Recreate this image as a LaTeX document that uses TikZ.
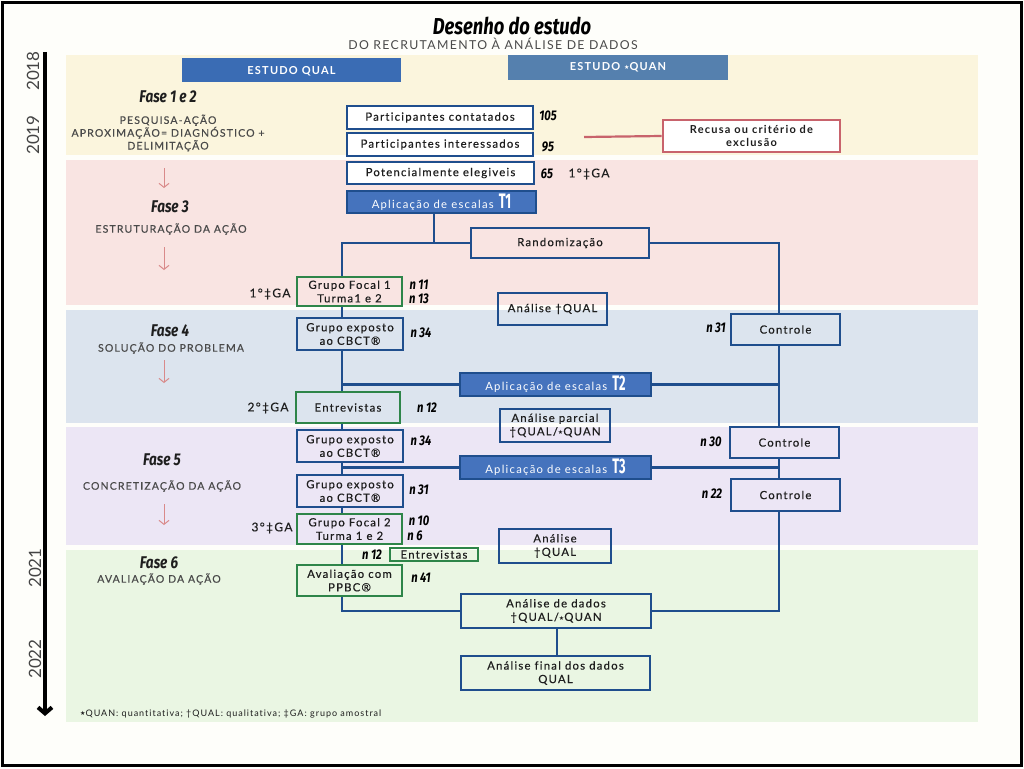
\documentclass[tikz,border=0pt]{standalone}
\usepackage{fontspec}
\usetikzlibrary{arrows.meta,calc}
\setmainfont{Lato}
\newfontfamily\bxf{Lato}[LetterSpace=11,FakeBold=0.4,Ligatures=NoCommon]
\newfontfamily\bxt{Lato}[LetterSpace=11,Ligatures=NoCommon]
\newfontfamily\mk{Fira Sans}[FakeStretch=0.8]
\newfontfamily\cond{Fira Sans}[FakeStretch=0.6]
\newfontfamily\djv{DejaVu Sans}
\newcommand\qst{\raisebox{0.8pt}{\djv\fontsize{6}{6}\selectfont ★}}
\definecolor{bgc}{HTML}{FEFEFA}
\definecolor{byel}{HTML}{FBF5DD}
\definecolor{bpink}{HTML}{F9E4E2}
\definecolor{bblue}{HTML}{DCE4EE}
\definecolor{blav}{HTML}{ECE6F5}
\definecolor{bgrn}{HTML}{EAF6E3}
\definecolor{dblue}{HTML}{1F4E8D}
\definecolor{dgreen}{HTML}{2E8549}
\definecolor{rred}{HTML}{C8636C}
\definecolor{mblue}{HTML}{4573BD}
\definecolor{hqual}{HTML}{3A6CB4}
\definecolor{hquan}{HTML}{5580AE}
\definecolor{txt}{HTML}{1E1E1E}
\definecolor{gtxt}{HTML}{4A4A4A}
\definecolor{ytxt}{HTML}{444444}
\definecolor{apink}{HTML}{D98A8A}
\newcommand\bxn[7]{\node[#2, minimum width={#5-#3}, minimum height={#6-#4}] (#1) at ({(#3+#5)/2},{(#4+#6)/2}) {#7};}
\newcommand\tl[1]{\hspace{5pt}{\cond\bfseries\fontsize{21}{19}\selectfont #1}}
\begin{document}
\begin{tikzpicture}[x=1pt,y=-1pt,
  box/.style={draw=dblue, line width=2.6pt, inner sep=0pt, align=center, text=txt, font=\bxf\fontsize{11.3}{13.5}\selectfont},
  wbox/.style={box, fill=white},
  gbox/.style={box, draw=dgreen},
  fbox/.style={box, fill=mblue, text=white, font=\bxt\fontsize{11.3}{13.5}\selectfont},
  rbox/.style={box, draw=rred, fill=white, font=\bxt\bfseries\fontsize{11}{13.5}\selectfont},
  hbox/.style={inner sep=0pt, text=white, font=\bxt\bfseries\fontsize{11}{12}\selectfont},
  num/.style={inner sep=0pt, text=black, font=\mk\bfseries\itshape\fontsize{14}{14}\selectfont},
  ga/.style={inner sep=0pt, text=txt, font=\bxf\fontsize{12}{12}\selectfont},
  fase/.style={inner sep=0pt, text=txt, font=\mk\bfseries\itshape\fontsize{17}{17}\selectfont},
  ph/.style={inner sep=0pt, text=gtxt, align=center, font=\bxf\fontsize{10.5}{12.8}\selectfont},
  conn/.style={draw=dblue, line width=2.6pt},
  rline/.style={draw=rred, line width=2.2pt},
  parr/.style={draw=apink, line width=1pt, -{Straight Barb[length=4pt,width=10pt]}},
  yr/.style={rotate=90, inner sep=0pt, text=ytxt, font=\fontsize{17}{17}\selectfont}
]
\fill[bgc] (0,0) rectangle (1024,768);
\useasboundingbox (0,0) rectangle (1024,768);
\draw[line width=2.5pt] (2.5,2.5) rectangle (1021.5,765.5);
% bands
\fill[byel] (66,55) rectangle (978,155);
\fill[bpink] (66,160) rectangle (978,305);
\fill[bblue] (66,310) rectangle (978,423);
\fill[blav] (66,427) rectangle (978,545);
\fill[bgrn] (66,550) rectangle (978,722);
% title
\node[inner sep=0pt, font=\mk\bfseries\itshape\fontsize{23}{23}\selectfont] (title) at (512,26) {Desenho do estudo};
\node[inner sep=0pt, text=gtxt, font=\bxt\fontsize{12.3}{12}\selectfont] (sub) at (493,44) {DO RECRUTAMENTO À ANÁLISE DE DADOS};
% timeline
\coordinate (tl0) at (45,52);
\coordinate (tl1) at (45,716);
\draw[line width=4pt, -{Straight Barb[length=6pt,width=14pt]}] (tl0) -- (tl1);
\node[yr] (y18) at (33,71) {2018};
\node[yr] (y19) at (33,135) {2019};
\node[yr] (y21) at (35,568) {2021};
\node[yr] (y22) at (35,659) {2022};
% headers
\fill[hqual] (182,58) rectangle (401,82);
\node[hbox] (hq) at (291.5,71) {ESTUDO QUAL};
\fill[hquan] (508,55) rectangle (728,80);
\node[hbox] (hn) at (618,67) {ESTUDO \qst QUAN};
% phase labels
\node[fase] (f12) at (168,97) {Fase 1 e 2};
\node[ph] (p12) at (168,133) {PESQUISA-AÇÃO\\APROXIMAÇÃO= DIAGNÓSTICO +\\DELIMITAÇÃO};
\coordinate (a1s) at (164,168); \coordinate (a1e) at (164,188);
\draw[parr] (a1s) -- (a1e);
\node[fase] (f3) at (170,207) {Fase 3};
\node[ph] (p3) at (171,229) {ESTRUTURAÇÃO DA AÇÃO};
\coordinate (a2s) at (164,247); \coordinate (a2e) at (164,270);
\draw[parr] (a2s) -- (a2e);
\node[fase] (f4) at (170,331) {Fase 4};
\node[ph] (p4) at (171,348) {SOLUÇÃO DO PROBLEMA};
\coordinate (a3s) at (164,360); \coordinate (a3e) at (164,383);
\draw[parr] (a3s) -- (a3e);
\node[fase] (f5) at (162,460) {Fase 5};
\node[ph] (p5) at (162,486) {CONCRETIZAÇÃO DA AÇÃO};
\coordinate (a4s) at (164,504); \coordinate (a4e) at (164,525);
\draw[parr] (a4s) -- (a4e);
\node[fase] (f6) at (159,563) {Fase 6};
\node[ph] (p6) at (159,579) {AVALIAÇÃO DA AÇÃO};
% boxes
\bxn{pc}{wbox}{347}{106}{533}{129}{Participantes contatados}
\bxn{pi}{wbox}{347}{133}{533}{156}{Participantes interessados}
\bxn{pe}{wbox}{347}{162}{534}{184}{Potencialmente elegiveis}
\bxn{t1}{fbox}{347}{191}{536}{213}{Aplicação de escalas\tl{T1}}
\bxn{rec}{rbox}{663}{120}{840}{152}{Recusa ou critério de\\exclusão}
\bxn{rand}{box}{471}{228}{649}{258}{Randomização}
\bxn{gf1}{gbox}{297}{277}{402}{306}{Grupo Focal 1\\Turma1 e 2}
\bxn{aq1}{box}{498}{293}{607}{325}{Análise †QUAL}
\bxn{ge1}{box}{297}{318}{403}{350}{Grupo exposto\\ao CBCT®}
\bxn{ctl1}{box}{731}{314}{840}{345}{Controle}
\bxn{t2}{fbox}{460}{373}{651}{396}{Aplicação de escalas\tl{T2}}
\bxn{ent1}{gbox}{296}{392}{400}{423}{Entrevistas}
\bxn{ap}{box}{500}{409}{610}{442}{Análise parcial\\†QUAL/\qst QUAN}
\bxn{ctl2}{box}{730}{427}{839}{458}{Controle}
\bxn{ge2}{box}{297}{430}{403}{462}{Grupo exposto\\ao CBCT®}
\bxn{t3}{fbox}{460}{456}{651}{479}{Aplicação de escalas\tl{T3}}
\bxn{ctl3}{box}{731}{479}{840}{511}{Controle}
\bxn{ge3}{box}{297}{475}{403}{507}{Grupo exposto\\ao CBCT®}
\bxn{gf2}{gbox}{297}{514}{402}{544}{Grupo Focal 2\\Turma 1 e 2}
\bxn{aq2}{box}{499}{529}{611}{563}{Análise\\†QUAL}
\bxn{ent2}{gbox}{390}{548}{478}{561}{Entrevistas}
\bxn{ppbc}{gbox}{297}{565}{402}{596}{Avaliação com\\PPBC®}
\bxn{ad}{box}{461}{594}{651}{628}{Análise de dados\\†QUAL/\qst QUAN}
\bxn{af}{box}{461}{656}{650}{690}{Análise final dos dados\\QUAL}
% numbers
\node[num] (n105) at (548,116) {105};
\node[num] (n95) at (548,147) {95};
\node[num] (n65) at (547,174) {65};
\node[ga] (ga1r) at (589,174) {1°‡GA};
\node[ga] (ga1) at (270,294) {1°‡GA};
\node[num] (n11) at (419,285) {n 11};
\node[num] (n13) at (419,299) {n 13};
\node[num] (n34a) at (421,333) {n 34};
\node[num] (n31a) at (716,328) {n 31};
\node[ga] (ga2) at (268,408) {2°‡GA};
\node[num] (n12a) at (427,408) {n 12};
\node[num] (n34b) at (421,441) {n 34};
\node[num] (n30) at (711,442) {n 30};
\node[num] (n31b) at (419,490) {n 31};
\node[num] (n22) at (712,494) {n 22};
\node[ga] (ga3) at (272,528) {3°‡GA};
\node[num] (n10) at (419,521) {n 10};
\node[num] (n6) at (415,536) {n 6};
\node[num] (n12b) at (372,555) {n 12};
\node[num] (n41) at (421,578) {n 41};
% connectors
\coordinate (ls) at (342,0);
\coordinate (rs) at (779,0);
\coordinate (k1) at (434,0);
\coordinate (k2) at (557,0);
\coordinate (rx) at (584,137);
\draw[rline] (rx) -- (rec.west);
\draw[conn] (t1.south -| k1) |- (rand.west);
\draw[conn] (rand.west) -| (gf1.north -| ls);
\draw[conn] (rand.east) -| (ctl1.north -| rs);
\draw[conn] (gf1.south -| ls) -- (ge1.north -| ls);
\draw[conn] (ge1.south -| ls) -- (ent1.north -| ls);
\draw[conn] (t2.west) -- (t2.west -| ls);
\draw[conn] (t2.east) -- (t2.east -| rs);
\draw[conn] (ctl1.south -| rs) -- (ctl2.north -| rs);
\draw[conn] (ent1.south -| ls) -- (ge2.north -| ls);
\draw[conn] (ge2.south -| ls) -- (ge3.north -| ls);
\draw[conn] (t3.west) -- (t3.west -| ls);
\draw[conn] (t3.east) -- (t3.east -| rs);
\draw[conn] (ctl2.south -| rs) -- (ctl3.north -| rs);
\draw[conn] (ge3.south -| ls) -- (gf2.north -| ls);
\draw[conn] (gf2.south -| ls) -- (ppbc.north -| ls);
\draw[conn] (ppbc.south -| ls) |- (ad.west);
\draw[conn] (ctl3.south -| rs) |- (ad.east);
\draw[conn] (ad.south -| k2) -- (af.north -| k2);
% footnote
\node[anchor=west, inner sep=0pt, text=txt, font=\bxt\fontsize{9}{9}\selectfont] (foot) at (80,714) {\qst QUAN: quantitativa; †QUAL: qualitativa; ‡GA: grupo amostral};
\end{tikzpicture}
\end{document}
